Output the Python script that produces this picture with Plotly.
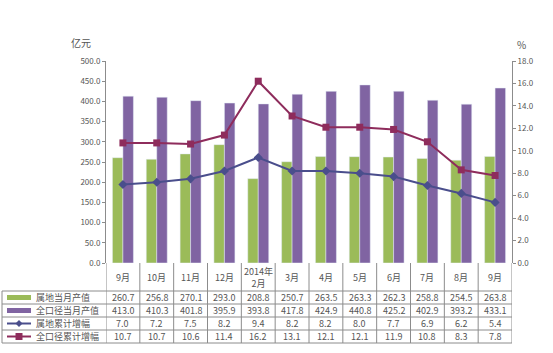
import plotly.graph_objects as go

categories = ["9月", "10月", "11月", "12月", "2014年<br>2月", "3月", "4月", "5月", "6月", "7月", "8月", "9月"]
local_month = [260.7, 256.8, 270.1, 293.0, 208.8, 250.7, 263.5, 263.3, 262.3, 258.8, 254.5, 263.8]
full_month = [413.0, 410.3, 401.8, 395.9, 393.8, 417.8, 424.9, 440.8, 425.2, 402.9, 393.2, 433.1]
local_cum = [7.0, 7.2, 7.5, 8.2, 9.4, 8.2, 8.2, 8.0, 7.7, 6.9, 6.2, 5.4]
full_cum = [10.7, 10.7, 10.6, 11.4, 16.2, 13.1, 12.1, 12.1, 11.9, 10.8, 8.3, 7.8]
series_names = ["属地当月产值", "全口径当月产值", "属地累计增幅", "全口径累计增幅"]

GREEN = "#9BBB59"
PURPLE = "#8064A2"
BLUE = "#4A4E8C"
MAROON = "#8E2C5C"
TXT = "#555555"
GRID = "#8C8C8C"
FONT = "Noto Sans CJK SC"

W, H = 553, 353
L, R, T, B = 106, 41, 61, 90
PW, PH = W - L - R, H - T - B

def px(x):
    return (x - L) / PW

def py(y):
    return (H - B - y) / PH

xs = list(range(len(categories)))
fig = go.Figure()
fig.add_bar(x=xs, y=local_month, marker_color=GREEN, name=series_names[0])
fig.add_bar(x=xs, y=full_month, marker_color=PURPLE, name=series_names[1])
fig.add_scatter(x=xs, y=local_cum, yaxis="y2", mode="lines+markers",
                line=dict(color=BLUE, width=2),
                marker=dict(symbol="diamond", size=7, color=BLUE), name=series_names[2])
fig.add_scatter(x=xs, y=full_cum, yaxis="y2", mode="lines+markers",
                line=dict(color=MAROON, width=2),
                marker=dict(symbol="square", size=7, color=MAROON), name=series_names[3])

shapes = []
ann = []
line_style = dict(color=GRID, width=1)

# table geometry (pixels)
cat_top, cat_bot = 263, 291
row_h = 13
rows_y = [cat_bot + i * row_h for i in range(5)]
tbl_left = 2

# vertical lines at category boundaries
for i in range(len(categories) + 1):
    shapes.append(dict(type="line", xref="x", yref="paper", x0=i - 0.5, x1=i - 0.5,
                       y0=py(cat_top), y1=py(rows_y[-1]), line=line_style))
# horizontal lines
for yy in rows_y:
    shapes.append(dict(type="line", xref="paper", yref="paper", x0=px(tbl_left), x1=px(W - R),
                       y0=py(yy), y1=py(yy), line=line_style))
shapes.append(dict(type="line", xref="paper", yref="paper", x0=px(tbl_left), x1=px(tbl_left),
                   y0=py(rows_y[0]), y1=py(rows_y[-1]), line=line_style))

# category labels
for i, c in enumerate(categories):
    ann.append(dict(x=i, y=py((cat_top + cat_bot) / 2), xref="x", yref="paper", text=c,
                    showarrow=False, font=dict(size=9, color=TXT, family=FONT),
                    xanchor="center", yanchor="middle"))

# data cells
data_rows = [local_month, full_month, local_cum, full_cum]
for r, vals in enumerate(data_rows):
    cy = py(rows_y[r] + row_h / 2)
    for i, v in enumerate(vals):
        ann.append(dict(x=i, y=cy, xref="x", yref="paper", text=f"{v:.1f}",
                        showarrow=False, font=dict(size=9, color=TXT, family=FONT),
                        xanchor="center", yanchor="middle"))
    ann.append(dict(x=px(34), y=cy, xref="paper", yref="paper", text=series_names[r],
                    showarrow=False, font=dict(size=9, color=TXT, family=FONT),
                    xanchor="left", yanchor="middle"))

# legend keys
k0, k1 = 7, 31
for r, col in enumerate([GREEN, PURPLE]):
    cyp = rows_y[r] + row_h / 2
    shapes.append(dict(type="rect", xref="paper", yref="paper", x0=px(k0), x1=px(k1),
                       y0=py(cyp + 2.5), y1=py(cyp - 2.5), fillcolor=col, line=dict(width=0)))
for r, col in [(2, BLUE), (3, MAROON)]:
    cyp = rows_y[r] + row_h / 2
    shapes.append(dict(type="line", xref="paper", yref="paper", x0=px(k0), x1=px(k1),
                       y0=py(cyp), y1=py(cyp), line=dict(color=col, width=2)))
    cx = (k0 + k1) / 2
    if r == 2:
        path = (f"M {px(cx)},{py(cyp - 3.5)} L {px(cx + 3.5)},{py(cyp)} "
                f"L {px(cx)},{py(cyp + 3.5)} L {px(cx - 3.5)},{py(cyp)} Z")
    else:
        path = (f"M {px(cx - 3.5)},{py(cyp - 3.5)} L {px(cx + 3.5)},{py(cyp - 3.5)} "
                f"L {px(cx + 3.5)},{py(cyp + 3.5)} L {px(cx - 3.5)},{py(cyp + 3.5)} Z")
    shapes.append(dict(type="path", xref="paper", yref="paper", path=path,
                       fillcolor=col, line=dict(width=0)))

# unit labels
ann.append(dict(x=px(93), y=py(43), xref="paper", yref="paper", text="亿元", showarrow=False,
                font=dict(size=10, color=TXT, family=FONT), xanchor="right", yanchor="middle"))
ann.append(dict(x=px(521), y=py(45), xref="paper", yref="paper", text="%", showarrow=False,
                font=dict(size=10, color=TXT, family=FONT), xanchor="center", yanchor="middle"))

fig.update_layout(
    width=W, height=H,
    margin=dict(l=L, r=R, t=T, b=B, pad=0),
    paper_bgcolor="white", plot_bgcolor="white",
    barmode="group", bargap=0.38, bargroupgap=0,
    showlegend=False,
    font=dict(family=FONT, size=8, color=TXT),
    xaxis=dict(range=[-0.5, len(categories) - 0.5], showticklabels=False, showgrid=False,
               zeroline=False, showline=False, ticks=""),
    yaxis=dict(range=[0, 500], dtick=50, tickformat=".1f", showgrid=False, zeroline=False,
               showline=True, linecolor=GRID, linewidth=1, ticks="outside", ticklen=3,
               tickcolor=GRID, tickfont=dict(size=8, color=TXT, family=FONT)),
    yaxis2=dict(range=[0, 18], dtick=2, tickformat=".1f", overlaying="y", side="right",
                showgrid=False, zeroline=False, showline=True, linecolor=GRID, linewidth=1,
                ticks="outside", ticklen=3, tickcolor=GRID,
                tickfont=dict(size=8, color=TXT, family=FONT)),
    shapes=shapes,
    annotations=ann,
)

fig.write_html("out.html")
